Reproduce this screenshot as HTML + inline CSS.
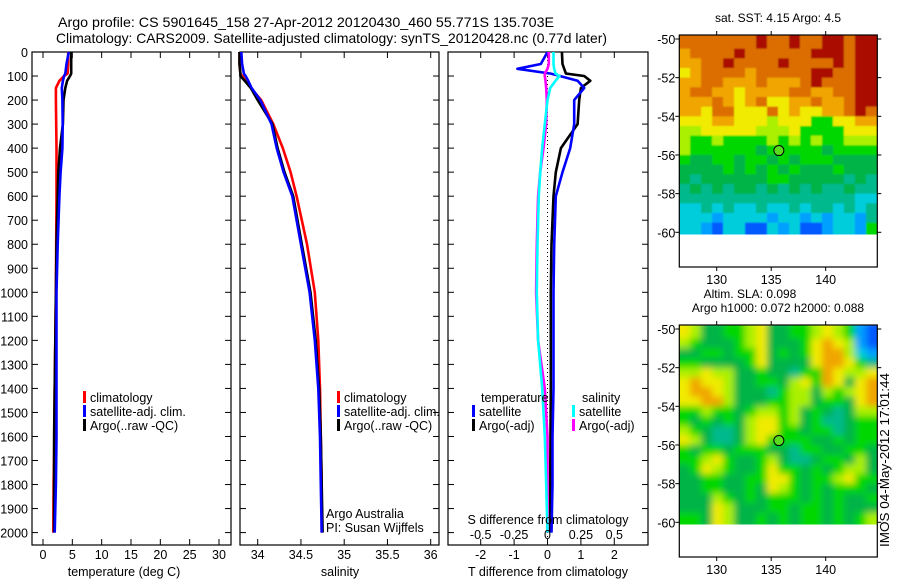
<!DOCTYPE html>
<html><head><meta charset="utf-8"><style>
body{margin:0;background:#fff}
svg{display:block;font-family:"Liberation Sans",sans-serif}
text{fill:#000}
</style></head><body>
<svg id="fig" width="900" height="580" viewBox="0 0 900 580" xmlns="http://www.w3.org/2000/svg">
<defs>
<filter id="blurS" x="-5%" y="-5%" width="110%" height="110%"><feGaussianBlur stdDeviation="0.7"/></filter>
<filter id="blurL" x="-5%" y="-5%" width="110%" height="110%"><feGaussianBlur stdDeviation="3.5"/></filter>
<clipPath id="clipm1"><rect x="679.3" y="35" width="198" height="199.5"/></clipPath>
<clipPath id="clipm2"><rect x="679.3" y="325" width="198" height="199.5"/></clipPath>
</defs>
<text x="58" y="27" font-size="14" textLength="496" lengthAdjust="spacingAndGlyphs">Argo profile: CS 5901645_158 27-Apr-2012 20120430_460 55.771S 135.703E</text>
<text x="56" y="43" font-size="14" textLength="551" lengthAdjust="spacingAndGlyphs">Climatology: CARS2009. Satellite-adjusted climatology: synTS_20120428.nc (0.77d later)</text>
<g id="g1"></g>
<g id="g2"></g>
<g id="g3"></g>
<g id="m1"></g>
<g id="m2"></g>
<text transform="translate(889,547) rotate(-90)" font-size="12.5" textLength="174" lengthAdjust="spacingAndGlyphs">IMOS 04-May-2012 17:01:44</text>
</svg>
<script>
// ---- data ----
const pres = [0,50,90,100,120,150,200,300,400,500,600,800,1000,1200,1400,1600,1800,2000];
const tempClim = [4.3,4.3,4.2,3.6,2.8,2.2,2.2,2.25,2.3,2.3,2.3,2.25,2.2,2.1,2.0,1.95,1.8,1.75];
const tempSat  = [4.4,4.0,3.8,3.6,3.4,3.2,3.3,3.35,3.3,3.0,2.8,2.5,2.3,2.3,2.3,2.3,2.2,2.0];
const tempArgo = [4.8,4.8,4.8,4.6,4.1,3.8,3.5,3.4,2.9,2.6,2.5,2.3,2.2,2.1,2.0,1.9,1.9,1.9];
const salClim = [33.79,33.79,33.8,33.82,33.86,33.92,34.04,34.18,34.29,34.38,34.45,34.57,34.66,34.70,34.72,34.73,34.74,34.74];
const salSat  = [33.81,33.82,33.84,33.86,33.89,33.93,34.03,34.16,34.22,34.30,34.40,34.50,34.60,34.66,34.70,34.72,34.73,34.74];
const salArgo = [33.79,33.79,33.8,33.8,33.85,33.92,34.0,34.17,34.23,34.31,34.41,34.51,34.61,34.67,34.71,34.73,34.74,34.75];
const presD = [0,50,70,90,100,120,150,200,300,400,500,600,800,1000,1200,1400,1600,1800,2000];
const dTsat  = [0,-0.2,-0.9,0.1,0.37,0.9,1.1,0.8,0.8,0.68,0.45,0.25,0.2,0.18,0.18,0.18,0.15,0.15,0.12];
const dTargo = [0.43,0.45,0.5,0.55,1.1,1.28,1.0,0.95,0.9,0.4,0.25,0.18,0.12,0.1,0.1,0.1,0.09,0.08,0.08];
const dSsat  = [0.045,0.045,0.05,0.06,0.09,0.06,0.02,0,-0.02,-0.04,-0.055,-0.065,-0.075,-0.08,-0.07,-0.04,-0.02,-0.01,0];
const dSargo = [0.01,0.01,0.0,-0.02,-0.02,-0.015,-0.01,-0.005,-0.01,-0.03,-0.055,-0.07,-0.08,-0.085,-0.07,-0.02,0,0,0];
const presTicks = [0,100,200,300,400,500,600,700,800,900,1000,1100,1200,1300,1400,1500,1600,1700,1800,1900,2000];
const tempTicks = [0,5,10,15,20,25,30];
const salTicks = [34,34.5,35,35.5,36];
const salTickLabels = ["34","34.5","35","35.5","36"];
const dTTicks = [-2,-1,0,1,2];
const dSTicks = [-0.5,-0.25,0,0.25,0.5];
const dSTickLabels = ["-0.5","-0.25","0","0.25","0.5"];
const latTicks = [-50,-52,-54,-56,-58,-60];
const lonTicks = [130,135,140];
const sstTitle = "sat. SST: 4.15 Argo: 4.5";
const argoLon = 135.703, argoLat = -55.771;
const sstGrid = [
"9999999a99a99aa9aa","89999a999999aaa9aa","8899a9999a9999a9aa","789999899999aa99aa",
"889988898889a999aa","8998878888998899aa","8889878977889889aa","8879977797877889a9",
"777887776777557788","667777766675555777","655655556565655666","655555545555545555",
"544554554545554444","444454545454445444","434444445544444343","343434434343433433",
"333333333333333322","223232232232332323","222122221221212213","221022002120012215"];
const slaGrid = [
"764455674455676510","654445674445787610","445545574545788621","554444574444788753",
"667664454435587667","787764455467587478","788764443566465678","778864445566455478",
"556554566564543466","545454677564533455","654334677554553455","764334675555445455",
"545545554435544554","556754456433455464","457654457554545664","445544557754556755",
"445544547654545554","444654545554545445","444764445545545444","554764454545545456"];
const cmap = {"0":"rgb(0,90,255)","1":"rgb(0,160,255)","2":"rgb(0,205,220)","3":"rgb(0,185,140)","4":"rgb(0,180,70)","5":"rgb(0,215,0)","6":"rgb(170,240,0)","7":"rgb(240,235,0)","8":"rgb(240,165,0)","9":"rgb(220,110,0)","a":"rgb(170,10,0)"};

// ---- helpers ----
const NS="http://www.w3.org/2000/svg";
function mk(parent,tag,attrs,txt){const e=document.createElementNS(NS,tag);for(const k in attrs)e.setAttribute(k,attrs[k]);if(txt!==undefined)e.textContent=txt;parent.appendChild(e);return e;}
const PY0=52, PYB=545, PPX=0.2403;
const yP = p => PY0 + p*PPX;
function lin(d0,d1,r0,r1){return v=>r0+(v-d0)*(r1-r0)/(d1-d0);}
const FS=12.5;

function frame(g,x0,x1,xs,xTicks,xLabels,yLabels){
  const r=mk(g,'rect',{x:x0,y:PY0,width:x1-x0,height:PYB-PY0,fill:'none',stroke:'#000','stroke-width':1.2});
  
  
  presTicks.forEach(p=>{const y=yP(p);
    mk(g,'line',{x1:x0,x2:x0+6,y1:y,y2:y,stroke:'#000'});
    mk(g,'line',{x1:x1-6,x2:x1,y1:y,y2:y,stroke:'#000'});
    if(yLabels){const t=mk(g,'text',{x:x0-4,y:y+5,'font-size':FS,'text-anchor':'end'},String(p));
      
      }
  });
  xTicks.forEach((v,i)=>{const x=xs(v);
    mk(g,'line',{x1:x,x2:x,y1:PYB-6,y2:PYB,stroke:'#000'});
    mk(g,'line',{x1:x,x2:x,y1:PY0,y2:PY0+6,stroke:'#000'});
    if(xLabels){const t=mk(g,'text',{x:x,y:559,'font-size':FS,'text-anchor':'middle'},xLabels[i]);
      
      }
  });
}
function prof(g,xs,vals,ps,col,name){
  const pts=vals.map((v,i)=>xs(v).toFixed(1)+','+yP(ps[i]).toFixed(1)).join(' ');
  const l=mk(g,'polyline',{points:pts,fill:'none',stroke:col,'stroke-width':2.6,'stroke-linejoin':'round'});
  
  
}
function legend(g,x,y,col,label){
  mk(g,'rect',{x:x,y:y-6,width:3,height:12,fill:col});
  const t=mk(g,'text',{x:x+7,y:y+5,'font-size':FS},label);
  
  
}

// ---- panel 1: temperature ----
const g1=document.getElementById('g1');
const xT=lin(0,30,43,219);
frame(g1,32,231,xT,tempTicks,tempTicks.map(String),true);
prof(g1,xT,tempClim,pres,'#f00','temp-climatology-line');
prof(g1,xT,tempArgo,pres,'#000','temp-argo-line');
prof(g1,xT,tempSat,pres,'#00f','temp-satellite-line');
legend(g1,83,397,'#f00','climatology');
legend(g1,83,411,'#00f','satellite-adj. clim.');
legend(g1,83,425,'#000','Argo(..raw -QC)');
mk(g1,'text',{x:124,y:576,'font-size':FS,'text-anchor':'middle',},'temperature (deg C)');

// ---- panel 2: salinity ----
const g2=document.getElementById('g2');
const xS=lin(34,36,257.7,430.7);
frame(g2,240,439,xS,salTicks,salTickLabels,false);
prof(g2,xS,salClim,pres,'#f00','sal-climatology-line');
prof(g2,xS,salArgo,pres,'#000','sal-argo-line');
prof(g2,xS,salSat,pres,'#00f','sal-satellite-line');
legend(g2,337,397,'#f00','climatology');
legend(g2,337,411,'#00f','satellite-adj. clim.');
legend(g2,337,425,'#000','Argo(..raw -QC)');
mk(g2,'text',{x:326,y:518,'font-size':FS,},'Argo Australia');
mk(g2,'text',{x:326,y:532,'font-size':FS,},'PI: Susan Wijffels');
mk(g2,'text',{x:340,y:576,'font-size':FS,'text-anchor':'middle',},'salinity');

// ---- panel 3: differences ----
const g3=document.getElementById('g3');
const xD=lin(-2,2,480.7,614.3);
const xDS=lin(-0.5,0.5,480.7,614.3);
frame(g3,448,648,xD,dTTicks,dTTicks.map(String),false);
mk(g3,'line',{x1:xD(0),x2:xD(0),y1:PY0,y2:PYB,stroke:'#000','stroke-dasharray':'1,3',});
prof(g3,xD,dTargo,presD,'#000','dT-argo-line');
prof(g3,xD,dTsat,presD,'#00f','dT-satellite-line');
prof(g3,xDS,dSargo,presD,'#f0f','dS-argo-line');
prof(g3,xDS,dSsat,presD,'#0ff','dS-satellite-line');
mk(g3,'text',{x:481,y:402,'font-size':FS,},'temperature');
mk(g3,'text',{x:582,y:402,'font-size':FS,},'salinity');
legend(g3,472,411,'#00f','satellite');
legend(g3,472,425,'#000','Argo(-adj)');
legend(g3,572,411,'#0ff','satellite');
legend(g3,572,425,'#f0f','Argo(-adj)');
mk(g3,'text',{x:548,y:524,'font-size':FS,'text-anchor':'middle',},'S difference from climatology');
dSTicks.forEach((v,i)=>{const t=mk(g3,'text',{x:xDS(v),y:539,'font-size':FS,'text-anchor':'middle'},dSTickLabels[i]);
  
  });
mk(g3,'text',{x:548,y:576,'font-size':FS,'text-anchor':'middle',},'T difference from climatology');

// ---- maps ----
function map(id,y0,grid,titles,blur){
  const g=document.getElementById(id);
  const X0=679.3,X1=877.3,Y1=y0+232;
  const xl=lin(130,140,716.7,825.7), yl=lin(-50,-60,y0+4,y0+197.3);
  const lonL=126.55, dLon=(144.7-126.55)/18;
  const outer=mk(g,'g',{'clip-path':'url(#clip'+id+')'});
  const cells=mk(outer,'g',{filter:'url(#'+blur+')'});
  grid.forEach((row,r)=>{for(let c=0;c<row.length;c++){
    let xa=xl(lonL+c*dLon), xb=xl(lonL+(c+1)*dLon);
    let ya=yl(-50-r*0.5), yb=yl(-50-(r+1)*0.5);
    if(c===0)xa-=8; if(c===row.length-1)xb+=8; if(r===0)ya-=8; if(r===grid.length-1)yb+=8;
    const cell=mk(cells,'rect',{x:xa,y:ya,width:xb-xa+0.4,height:yb-ya+0.4,fill:cmap[row[c]]});
    
    
  }});
  const fr=mk(g,'rect',{x:X0,y:y0,width:X1-X0,height:Y1-y0,fill:'none',stroke:'#000','stroke-width':1.2});
  
  
  latTicks.forEach(v=>{const y=yl(v);
    mk(g,'line',{x1:X0-4,x2:X0,y1:y,y2:y,stroke:'#000'});
    mk(g,'line',{x1:X1,x2:X1+4,y1:y,y2:y,stroke:'#000'});
    const t=mk(g,'text',{x:X0-4,y:y+5,'font-size':FS,'text-anchor':'end'},String(v));
    
    });
  lonTicks.forEach(v=>{const x=xl(v);
    mk(g,'line',{x1:x,x2:x,y1:y0-4,y2:y0,stroke:'#000'});
    mk(g,'line',{x1:x,x2:x,y1:Y1,y2:Y1+4,stroke:'#000'});
    const t=mk(g,'text',{x:x,y:Y1+17,'font-size':FS,'text-anchor':'middle'},String(v));
    
    });
  const m=mk(g,'circle',{cx:xl(argoLon),cy:yl(argoLat),r:5,fill:'rgb(90,220,30)',stroke:'#000','stroke-width':1});
  
  
  titles.forEach((s,i)=>{const t=mk(g,'text',{x:titles.length>1&&i===0?750:778,y:y0-13-(titles.length-1-i)*14,'font-size':12,'text-anchor':'middle'},s);
    
    });
}
map('m1',35,sstGrid,[sstTitle],'blurS');
map('m2',325,slaGrid,["Altim. SLA: 0.098","Argo h1000: 0.072 h2000: 0.088"],'blurL');
</script>
</body></html>
